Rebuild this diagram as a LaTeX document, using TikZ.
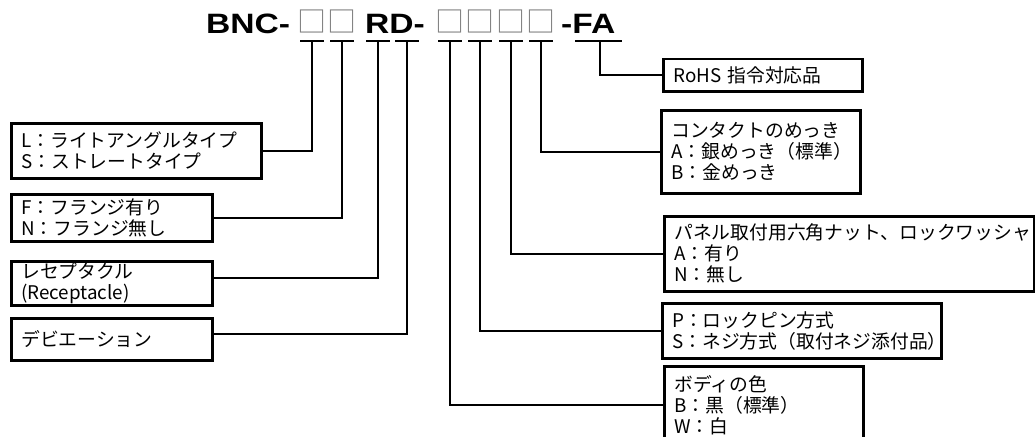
\documentclass[tikz,border=0pt]{standalone}
\usepackage{fontspec}
\newfontfamily\jpfont{Noto Sans CJK JP}
\newfontfamily\titlefont[FakeStretch=1.2]{Liberation Sans}

\begin{document}
\begin{tikzpicture}[x=1pt, y=-1pt,
  infobox/.style={draw, line width=2.5pt, anchor=north west, align=left,
    inner xsep=10pt, inner ysep=0pt,
    font=\jpfont\fontsize{18.8}{21}\selectfont},
  title/.style={anchor=base west, inner sep=0pt,
    font=\titlefont\bfseries\fontsize{28}{28}\selectfont},
  blank/.style={anchor=base, inner sep=0pt, text=gray,
    font=\jpfont\fontsize{29}{29}\selectfont},
  lead/.style={line width=2pt},
  uline/.style={line width=2.5pt}]
\useasboundingbox (0,0) rectangle (1035,436);

% part number
\node[title] (ttlbnc) at (206,33.5) {BNC-};
\node[title] (ttlrd) at (365,33.5) {RD-};
\node[title] (ttlfa) at (561,33.5) {-FA};
\foreach \nm/\x in {sq1/312, sq2/342, sq3/450, sq4/480, sq5/511, sq6/541}
  \node[blank] (\nm) at (\x,33) {□};

% taps under the code
\foreach \nm/\x in {t1/312, t2/342, t3/378, t4/407, t5/450, t6/480, t7/511, t8/541}
  {\coordinate (\nm) at (\x,41);
   \draw[uline] ([xshift=-12pt]\nm) -- ([xshift=12pt]\nm);}
\coordinate (t9) at (600,41);
\draw[uline] ([xshift=-25pt]t9) -- ([xshift=22pt]t9);

% left boxes
\node[infobox, text width=230, minimum height=55] (typebox) at (10,122)
  {L：ライトアングルタイプ\\S：ストレートタイプ};
\node[infobox, text width=181, minimum height=47] (flangebox) at (10,193)
  {F：フランジ有り\\N：フランジ無し};
\node[infobox, text width=181, minimum height=44] (recbox) at (10,260)
  {レセプタクル\\(Receptacle)};
\node[infobox, text width=181, minimum height=42] (devbox) at (10,317)
  {デビエーション};

% right boxes
\node[infobox, text width=179, minimum height=32] (rohsbox) at (662,58)
  {RoHS 指令対応品};
\node[infobox, text width=179, minimum height=83] (platebox) at (660,109)
  {コンタクトのめっき\\A：銀めっき（標準）\\B：金めっき};
\node[infobox, text width=350, minimum height=75] (nutbox) at (663,215)
  {パネル取付用六角ナット、ロックワッシャ\\A：有り\\N：無し};
\node[infobox, text width=259, minimum height=55] (lockbox) at (661,302)
  {P：ロックピン方式\\S：ネジ方式（取付ネジ添付品）};
\node[infobox, text width=179, minimum height=78] (colorbox) at (663,365)
  {ボディの色\\B：黒（標準）\\W：白};

\draw[lead] (t1) |- (typebox.east);
\draw[lead] (t2) |- (flangebox.east);
\draw[lead] (t3) |- ([yshift=5pt]recbox.east);
\draw[lead] (t4) |- ([yshift=5pt]devbox.east);
\draw[lead] (t5) |- (colorbox.west);
\draw[lead] (t6) |- (lockbox.west);
\draw[lead] (t7) |- (nutbox.west);
\draw[lead] (t8) |- (platebox.west);
\draw[lead] (t9) |- (rohsbox.west);
\end{tikzpicture}
\end{document}
